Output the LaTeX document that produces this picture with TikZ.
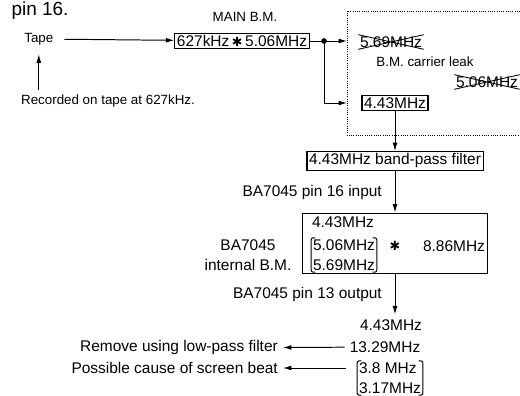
\documentclass[tikz,border=0pt]{standalone}
\usepackage{fontspec}
\setmainfont{Liberation Sans}
\newfontfamily\symfont{DejaVu Sans}
\usetikzlibrary{arrows.meta, shapes.misc}

\tikzset{
  small/.style={font=\fontsize{9.5}{11}\selectfont},
  fbox/.style={draw, line width=0.8pt, inner sep=1.5pt},
  struck/.style={cross out, draw, line width=0.6pt, inner sep=1pt},
  pair/.style={align=left, inner sep=1pt},
}

\begin{document}
\begin{tikzpicture}[line width=0.7pt, >={Latex[length=6pt,width=3.5pt]},
    font=\fontsize{11}{14}\selectfont]
  \useasboundingbox (0,0) rectangle (13,9.875);
  % Heading
  \node[font=\fontsize{13.5}{15}\selectfont] (pin) at (1.0,9.62) {pin 16.};
  \node[small] (mainbm) at (6.125,9.45) {MAIN B.M.};
  % Tape input
  \node[small] (tape) at (0.97,8.9) {Tape};
  \node[small] (rec) at (2.7,7.35) {Recorded on tape at 627kHz.};
  \node[fbox] (bm) at (6.05,8.85) {627kHz\,{\symfont\small ✱}\,5.06MHz};
  \draw[->, shorten <=4pt] (tape) -- (bm);
  \draw[->, shorten >=3pt] (rec.north -| tape) -- (tape.south);
  % Carrier leak area
  \coordinate (leakNW) at (8.675,9.6);
  \coordinate (leakSE) at (13.5,6.5);
  \draw[densely dotted, line width=0.6pt] (leakNW) rectangle (leakSE);
  \node[struck] (x569) at (9.775,8.825) {5.69MHz};
  \node[small] (leak) at (10.625,8.325) {B.M. carrier leak};
  \node[struck] (x506) at (12.175,7.825) {5.06MHz};
  \node[fbox] (f443) at (9.875,7.3) {4.43MHz};
  % Branch
  \coordinate (split) at (8.1,8.85);
  \draw (bm) -- (split);
  \fill (split) circle (2pt);
  \draw[->] (split) -- (split -| leakNW);
  \draw[->] (split) |- (f443 -| leakNW);
  % Filter
  \node[fbox] (bpf) at (9.875,5.85) {4.43MHz band-pass filter};
  \draw[->] (f443) -- (bpf);
  \node[anchor=east] (pin16) at (9.675,5.05) {BA7045 pin 16 input};
  % BA7045
  \node[draw, line width=0.6pt, minimum width=4.625cm, minimum height=1.5cm] (ic) at (9.8625,3.8) {};
  \draw[->] (bpf) -- (bpf |- ic.north);
  \node (in443) at (8.575,4.325) {4.43MHz};
  \node[pair] (mix) at (8.6,3.5) {5.06MHz\\5.69MHz};
  \draw[rounded corners=1.5pt] ([xshift=3pt]mix.north west) -- (mix.north west)
    -- (mix.south west) -- ([xshift=3pt]mix.south west);
  \draw[rounded corners=1.5pt] ([xshift=-3pt]mix.north east) -- (mix.north east)
    -- (mix.south east) -- ([xshift=-3pt]mix.south east);
  \node (ast) at (9.875,3.72) {\symfont\small ✱};
  \node (f886) at (11.35,3.72) {8.86MHz};
  \node[align=center] (intbm) at (6.2,3.5) {BA7045\\internal B.M.};
  % Output
  \node (out443) at (9.775,1.75) {4.43MHz};
  \node (f1329) at (9.625,1.2) {13.29MHz};
  \node[pair] (beat) at (9.75,0.425) {3.8 MHz\\3.17MHz};
  \draw[rounded corners=1.5pt] ([xshift=3pt]beat.north west) -- (beat.north west)
    -- (beat.south west) -- ([xshift=3pt]beat.south west);
  \draw[rounded corners=1.5pt] ([xshift=-3pt]beat.north east) -- (beat.north east)
    -- (beat.south east) -- ([xshift=-3pt]beat.south east);
  \draw[->] (ic.south -| bpf) -- (out443.north -| bpf);
  \node[anchor=east] (pin13) at (9.675,2.5) {BA7045 pin 13 output};
  % Side notes
  \node[anchor=east] (remove) at (7.075,1.175) {Remove using low-pass filter};
  \node[anchor=east] (cause) at (7.075,0.675) {Possible cause of screen beat};
  \draw[->] (f1329) -- (remove);
  \draw[->, shorten <=8pt] (cause -| beat.west) -- (cause);
\end{tikzpicture}
\end{document}
